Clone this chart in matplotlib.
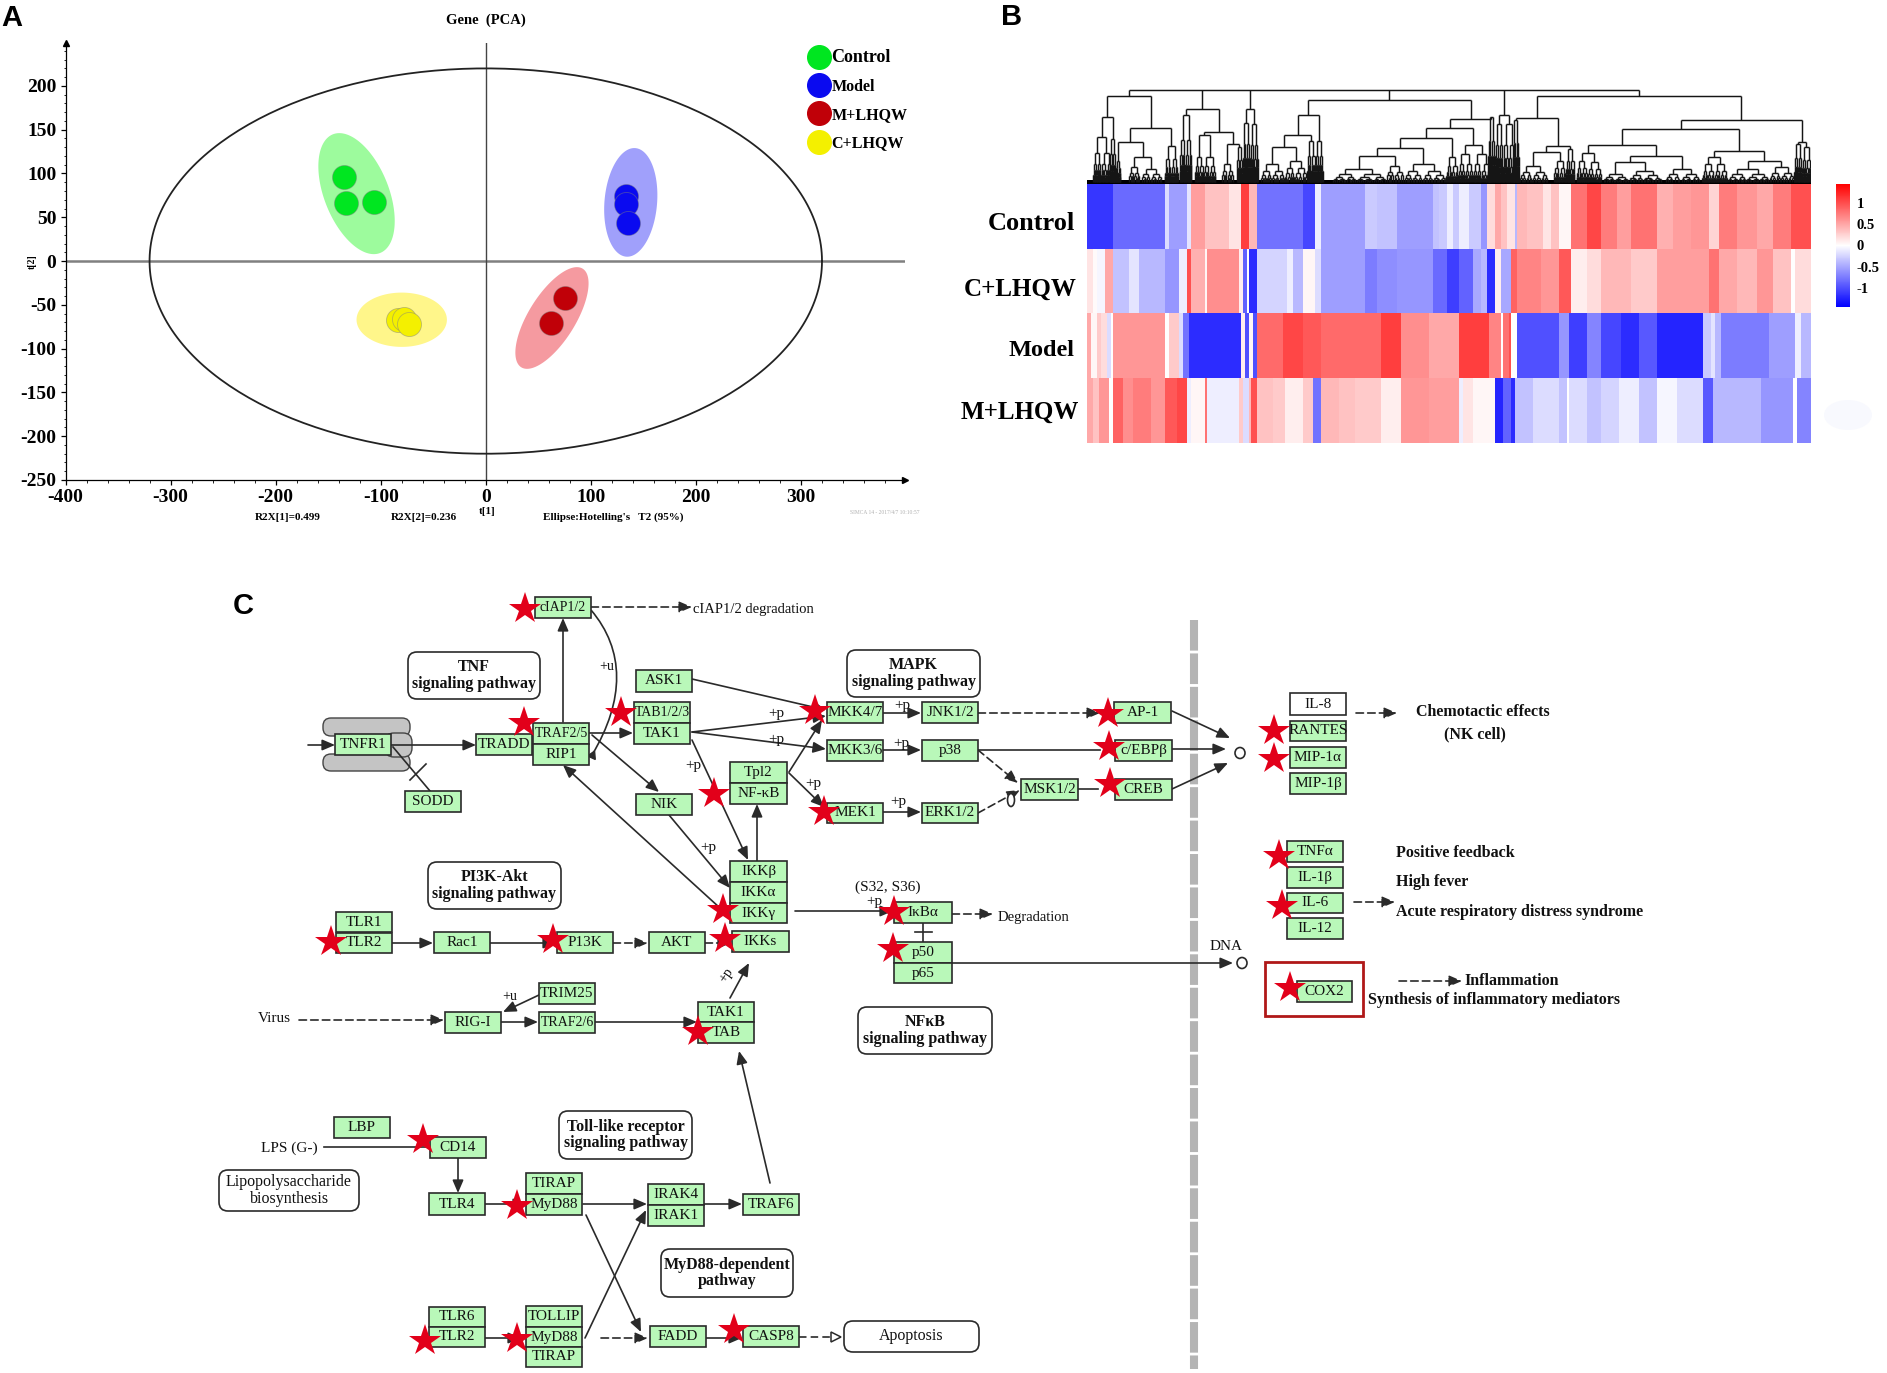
import numpy as np
import matplotlib
matplotlib.use('Agg')
import matplotlib.pyplot as plt
from matplotlib.collections import LineCollection
from matplotlib.colors import LinearSegmentedColormap, Normalize
from matplotlib.lines import Line2D
from matplotlib.patches import FancyBboxPatch, Rectangle, Ellipse, PathPatch
from matplotlib.path import Path

plt.rcParams['font.family'] = ['Liberation Serif', 'DejaVu Sans']
plt.rcParams['axes.unicode_minus'] = False

W, H = 1887, 1373
SANS = ['Liberation Sans', 'DejaVu Sans']

# ---------- Panel A data ----------
group_names = ['Control', 'Model', 'M+LHQW', 'C+LHQW']
point_colors = ['#00e620', '#0a0af0', '#c00008', '#f4f000']
fill_colors = ['#9dfb9d', '#a0a0fb', '#f59aa0', '#fff68a']
pca_t1 = [[-135, -133, -106], [133, 133, 135], [75, 62], [-84, -78, -73]]
pca_t2 = [[96, 66, 68], [74, 65, 43], [-42, -71], [-67, -66, -72]]
ell_center = [(-123, 77), (138, 67), (63, -65), (-80, -67)]
ell_major = [(-20.5, 68.5), (4, 62), (27, 57.5), (43, 0)]
ell_minor = [(30, 9), (25, -1.6), (22, -8), (0, 31)]
hotelling_rx, hotelling_ry = 320, 220

# ---------- Panel B data ----------
row_names = ['Control', 'C+LHQW', 'Model', 'M+LHQW']
ctrl_ends = [13, 39, 41, 50, 52, 59, 71, 77, 81, 85, 108, 114, 117, 139, 145, 155, 173, 176, 180, 183,
             186, 191, 197, 200, 204, 207, 210, 214, 215, 220, 228, 232, 236, 242, 250, 257, 265, 272, 285, 293,
             302, 311, 316, 325, 335, 343, 352, 362]
ctrl_vals = [-1.15, -.85, -.2, -.55, -.15, .55, .35, .15, 1.1, .4, -.8, -1.05, -.1, -.55, -.3, -.35, -.55, -.35, -.3, -.1,
             -.3, -.1, -.3, -.6, .2, .5, .35, .15, -.4, .4, .35, .15, .35, .05, .8, 1.05, .75, .55, .8, .45,
             .55, .6, .25, .75, .6, .5, .75, 1.0]
cl_ends = [3, 5, 9, 13, 21, 26, 39, 46, 50, 52, 59, 60, 76, 78, 80, 81, 85, 100, 103, 108,
           114, 117, 139, 145, 155, 173, 180, 186, 193, 197, 200, 204, 207, 212, 215, 227, 236, 242, 250, 257,
           272, 285, 311, 316, 325, 335, 343, 352, 354, 362]
cl_vals = [.15, .03, -.05, .5, -.35, -.15, -.4, -.6, -.1, 1.0, .45, .05, .65, .1, -.9, 0, -1.2, -.25, -.1, -.4,
           .05, -.2, -.55, -.75, -.65, -.6, -.85, -1.1, -.9, -.5, -.4, -1.2, .1, -.5, .9, .7, .6, .95, .1, .2,
           .4, .3, .55, .8, .5, .4, .6, .35, 0, .2]
model_ends = [2, 5, 7, 10, 12, 13, 39, 41, 46, 48, 51, 77, 79, 81, 83, 85, 98, 108, 117, 147,
              157, 171, 186, 201, 207, 208, 211, 212, 215, 236, 241, 250, 257, 267, 276, 285, 308, 312, 314, 317,
              341, 354, 357, 362]
model_vals = [.5, .05, .3, .2, -.2, 0, .6, 0, .3, -.2, -.8, -1.2, .1, -1, .05, -1, .85, 1.05, .95, .85,
              1.1, .65, .5, 1.1, .7, 0, .8, 1, 0, -1.0, -.6, -1.1, -.7, -1.05, -1.2, -.95, -1.25, -.3, -.15, -.4,
              -.75, -.55, -.1, -.4]
ml_ends = [3, 6, 11, 13, 18, 23, 32, 39, 45, 50, 52, 59, 60, 76, 78, 81, 82, 85, 93, 99,
           108, 113, 117, 126, 134, 147, 157, 171, 186, 188, 193, 204, 208, 212, 214, 223, 236, 240, 241, 250,
           257, 266, 276, 285, 295, 308, 313, 337, 353, 355, 362]
ml_vals = [.5, .35, .6, 0, .9, .65, .75, .6, .95, 1.05, -.1, .05, .8, -.1, .3, -.2, .4, 1, .35, .3,
           .1, .3, -.8, .4, .35, .3, .1, .6, .55, -.1, .15, .05, -1.25, -.9, -1.2, -.35, -.2, -.35, 0, -.2,
           -.35, -.25, -.1, -.35, -.05, -.2, -.95, -.4, -.6, 0, -.7]
scale_ticks = [1, 0.5, 0, -0.5, -1]
scale_labels = ['1', '0.5', '0', '-0.5', '-1']
scale_limit = 1.46


def comb(x0, x1, h, minw):
    return (x0, x1, h, minw * 0.5)


# dendrogram: [merge height, children...]; comb(...) marks a dense tuft of leaves
dendro = [268,
          [287,
           [350, comb(240, 270, 410, 3), comb(268, 278, 415, 2)],
           [382,
            [425, comb(278, 286, 480, 2),
             [470, comb(300, 318, 500, 6), comb(320, 355, 505, 8)]],
            comb(360, 382, 435, 2)]],
          [325, comb(385, 405, 345, 2.5),
           [395,
            [405, comb(410, 425, 470, 4), comb(425, 445, 470, 4)],
            [430, comb(455, 475, 490, 6), comb(480, 490, 440, 2.5)]]],
          [325, comb(490, 503, 368, 2), comb(503, 516, 372, 2)],
          [300,
           [345,
            [405,
             [440, comb(520, 560, 490, 6), comb(560, 598, 480, 6)],
             comb(598, 612, 420, 2.5)],
            comb(612, 624, 420, 2.5)],
           [355,
            [382,
             [412,
              [442,
               [465, comb(640, 730, 505, 10), comb(730, 760, 495, 8)],
               [490, comb(760, 790, 510, 8), comb(790, 830, 510, 8)]],
              comb(830, 850, 470, 4)],
             [432, comb(850, 875, 460, 4), comb(875, 905, 460, 4)]],
            comb(900, 912, 350, 2.5)]],
          [345, comb(912, 925, 370, 2), comb(925, 945, 370, 2.5)],
          [288,
           [352, comb(942, 952, 360, 2),
            [435,
             [455, comb(952, 1000, 495, 6), comb(1010, 1030, 480, 4)],
             comb(1030, 1045, 445, 2.5)]],
           [358,
            [385,
             [432,
              [458, comb(1048, 1066, 480, 3), comb(1066, 1090, 485, 4)],
              [465,
               [485, comb(1092, 1135, 520, 8), comb(1135, 1190, 510, 8)],
               comb(1195, 1255, 505, 10)]],
             [450,
              [470, comb(1258, 1278, 490, 3), comb(1278, 1300, 490, 3)],
              [480, comb(1300, 1370, 505, 8), comb(1370, 1412, 500, 8)]]],
            [425, comb(1412, 1424, 430, 2.5), comb(1424, 1440, 440, 2.5)]]]]

# ---------- Panel C data ----------
genes = [('cIAP1/2', 535, 591, 597, 618), ('TRADD', 476, 532, 734, 755), ('TRAF2/5', 533, 589, 723, 744),
         ('RIP1', 533, 589, 744, 765), ('TNFR1', 335, 391, 734, 755), ('SODD', 405, 461, 791, 812),
         ('ASK1', 636, 692, 670, 692), ('TAB1/2/3', 634, 690, 702, 723), ('TAK1', 634, 690, 723, 744),
         ('NIK', 636, 692, 794, 815), ('Tpl2', 730, 787, 762, 783), ('NF-κB', 730, 787, 783, 804),
         ('MKK4/7', 827, 883, 702, 723), ('JNK1/2', 922, 978, 702, 723), ('MKK3/6', 827, 883, 740, 761),
         ('p38', 922, 978, 740, 761), ('MEK1', 827, 883, 803, 823), ('ERK1/2', 922, 978, 803, 823),
         ('IKKβ', 730, 787, 861, 882), ('IKKα', 730, 787, 882, 903), ('IKKγ', 730, 787, 903, 923),
         ('IKKs', 732, 789, 931, 952), ('TLR1', 336, 392, 912, 932), ('TLR2', 336, 392, 933, 953),
         ('Rac1', 434, 490, 932, 953), ('P13K', 557, 613, 932, 953), ('AKT', 649, 705, 932, 953),
         ('IκBα', 894, 952, 902, 923), ('p50', 894, 952, 942, 963), ('p65', 894, 952, 963, 983),
         ('TRIM25', 539, 595, 983, 1004), ('RIG-I', 445, 501, 1012, 1033), ('TRAF2/6', 539, 595, 1012, 1033),
         ('TAK1', 698, 754, 1002, 1022), ('TAB', 698, 754, 1022, 1043), ('LBP', 334, 390, 1117, 1138),
         ('CD14', 430, 486, 1137, 1158), ('TLR4', 429, 485, 1193, 1215), ('TIRAP', 526, 582, 1173, 1194),
         ('MyD88', 526, 582, 1194, 1215), ('IRAK4', 648, 704, 1184, 1205), ('IRAK1', 648, 704, 1205, 1226),
         ('TRAF6', 743, 799, 1194, 1215), ('TLR6', 429, 485, 1307, 1327), ('TLR2', 429, 485, 1327, 1347),
         ('TOLLIP', 526, 582, 1306, 1327), ('MyD88', 526, 582, 1327, 1347), ('TIRAP', 526, 582, 1347, 1367),
         ('FADD', 650, 706, 1326, 1347), ('CASP8', 743, 799, 1326, 1347), ('AP-1', 1114, 1171, 702, 723),
         ('c/EBPβ', 1115, 1172, 740, 761), ('CREB', 1115, 1172, 779, 800), ('MSK1/2', 1021, 1078, 779, 800),
         ('RANTES', 1290, 1346, 721, 741), ('MIP-1α', 1290, 1346, 747, 768), ('MIP-1β', 1290, 1346, 773, 794),
         ('TNFα', 1287, 1343, 841, 862), ('IL-1β', 1287, 1343, 867, 888), ('IL-6', 1287, 1343, 893, 913),
         ('IL-12', 1287, 1343, 918, 939), ('COX2', 1297, 1352, 981, 1002)]
pathway_boxes = [('TNF\nsignaling pathway', 408, 540, 652, 699, 'bold'), ('MAPK\nsignaling pathway', 847, 980, 650, 697, 'bold'),
                 ('PI3K-Akt\nsignaling pathway', 428, 561, 862, 909, 'bold'), ('NFκB\nsignaling pathway', 858, 992, 1007, 1054, 'bold'),
                 ('Toll-like receptor\nsignaling pathway', 559, 692, 1111, 1159, 'bold'),
                 ('MyD88-dependent\npathway', 661, 793, 1249, 1297, 'bold'),
                 ('Lipopolysaccharide\nbiosynthesis', 219, 359, 1170, 1211, 'normal'), ('Apoptosis', 844, 979, 1321, 1352, 'normal')]
stars = [(525, 609), (524, 723), (621, 713), (815, 711), (714, 794), (824, 812), (723, 910), (725, 939), (331, 942),
         (553, 940), (894, 912), (893, 949), (698, 1032), (423, 1140), (517, 1206), (425, 1341), (517, 1339), (734, 1330),
         (1108, 714), (1109, 747), (1110, 784), (1274, 731), (1274, 759), (1279, 856), (1282, 906), (1290, 988)]
solid_arrows = [(308, 745, 335, 745), (391, 745, 476, 745), (563, 722, 563, 618), (589, 733, 633, 733), (692, 732, 826, 716),
                (692, 732, 826, 749), (692, 679, 826, 710), (592, 735, 659, 792), (692, 740, 748, 860), (669, 815, 730, 888),
                (720, 908, 563, 765), (757, 861, 757, 804), (789, 772, 822, 720), (789, 773, 824, 807), (883, 713, 921, 713),
                (883, 750, 921, 750), (883, 812, 921, 812), (1172, 749, 1226, 749), (1172, 711, 1230, 738), (1172, 789, 1228, 763),
                (795, 911, 893, 911), (952, 963, 1233, 963), (392, 943, 433, 943), (490, 943, 556, 943), (730, 998, 749, 963),
                (539, 995, 503, 1012), (501, 1022, 538, 1022), (595, 1022, 697, 1022), (458, 1158, 458, 1193), (485, 1204, 526, 1204),
                (583, 1204, 647, 1204), (704, 1204, 742, 1204), (770, 1183, 739, 1051), (586, 1215, 641, 1332), (585, 1338, 646, 1210),
                (485, 1338, 521, 1338), (706, 1338, 742, 1338)]
dashed_arrows = [(591, 607, 692, 607), (978, 713, 1100, 713), (978, 750, 1018, 783), (978, 813, 1020, 790), (952, 914, 993, 914),
                 (613, 943, 648, 943), (705, 943, 731, 943), (1356, 713, 1397, 713), (1354, 902, 1395, 902), (1399, 981, 1462, 981),
                 (299, 1020, 444, 1020), (601, 1338, 648, 1338)]
plain_lines = [(978, 750, 1100, 750), (1078, 789, 1098, 789), (923, 923, 923, 942), (915, 932, 932, 932), (393, 747, 430, 791),
               (410, 780, 426, 764), (324, 1147, 429, 1147)]
plain_notes = [('cIAP1/2 degradation', 693, 610, 'left', 10.5, 'normal'), ('Degradation', 998, 918, 'left', 10.5, 'normal'),
               ('Virus', 274, 1019, 'center', 11, 'normal'), ('LPS (G-)', 289, 1148, 'center', 11, 'normal'), ('DNA', 1226, 947, 'center', 11, 'normal'),
               ('(S32, S36)', 888, 887, 'center', 11, 'normal'), ('+u', 607, 667, 'center', 10, 'normal'), ('+u', 510, 996, 'center', 10, 'normal'),
               ('+p', 776, 714, 'center', 11, 'normal'), ('+p', 776, 739, 'center', 11, 'normal'), ('+p', 902, 706, 'center', 11, 'normal'),
               ('+p', 901, 743, 'center', 11, 'normal'), ('+p', 898, 801, 'center', 11, 'normal'), ('+p', 693, 765, 'center', 11, 'normal'),
               ('+p', 708, 848, 'center', 11, 'normal'), ('+p', 813, 783, 'center', 11, 'normal'), ('+p', 874, 902, 'center', 11, 'normal'),
               ('Chemotactic effects', 1483, 712, 'center', 11.5, 'bold'), ('(NK cell)', 1475, 734, 'center', 11.5, 'bold'),
               ('Positive feedback', 1396, 853, 'left', 11.5, 'bold'), ('High fever', 1396, 882, 'left', 11.5, 'bold'),
               ('Acute respiratory distress syndrome', 1396, 912, 'left', 11.5, 'bold'), ('Inflammation', 1464, 981, 'left', 11.5, 'bold'),
               ('Synthesis of inflammatory mediators', 1368, 1000, 'left', 11.5, 'bold')]

# ---------- Figure ----------
fig = plt.figure(figsize=(W / 100, H / 100), dpi=100, facecolor='white')


def px_axes(x0, x1, y0, y1, **kw):
    return fig.add_axes([x0 / W, 1 - y1 / H, (x1 - x0) / W, (y1 - y0) / H], **kw)


# ---------- Panel A ----------
ax = px_axes(65.5, 905, 43, 480)
ax.set_xlim(-400, 399)
ax.set_ylim(-250, 249)
for s in ('top', 'right'):
    ax.spines[s].set_visible(False)
for s in ('left', 'bottom'):
    ax.spines[s].set_linewidth(0.9)
ax.set_xticks(range(-400, 301, 100))
ax.set_yticks(range(-250, 201, 50))
ax.set_xticks(range(-400, 399, 20), minor=True)
ax.set_yticks(range(-250, 249, 10), minor=True)
ax.tick_params(which='major', length=3.5, width=0.9, pad=3)
ax.tick_params(which='minor', length=1.8, width=0.6)
for lab in ax.get_xticklabels() + ax.get_yticklabels():
    lab.set_fontsize(14)
    lab.set_fontweight('bold')
ax.axhline(0, color='#808080', lw=1.8, zorder=1)
ax.axvline(0, color='#444444', lw=1.0, zorder=1)
t = np.linspace(0, 2 * np.pi, 300)
ax.plot(hotelling_rx * np.cos(t), hotelling_ry * np.sin(t), color='#222222', lw=1.3, zorder=2)
for c, u, v, col in zip(ell_center, ell_major, ell_minor, fill_colors):
    ax.fill(c[0] + u[0] * np.cos(t) + v[0] * np.sin(t), c[1] + u[1] * np.cos(t) + v[1] * np.sin(t),
            color=col, lw=0, zorder=2)
for xs, ys, col in zip(pca_t1, pca_t2, point_colors):
    ax.scatter(xs, ys, s=300, color=col, edgecolors='#80808080', linewidths=0.6, zorder=3)
ax.plot(0, 1, '^k', ms=4, transform=ax.transAxes, clip_on=False)
ax.plot(1, 0, '>k', ms=4, transform=ax.transAxes, clip_on=False)
handles = [Line2D([], [], ls='', marker='o', ms=17, color=c) for c in point_colors]
leg = ax.legend(handles, group_names, loc='upper left', bbox_to_anchor=(0.884, 0.986), frameon=False,
                labelspacing=0.78, handletextpad=0.1, handlelength=1.4, borderpad=0, borderaxespad=0,
                prop={'size': 11.5, 'weight': 'bold'})
leg.get_texts()[0].set_fontsize(13)

# ---------- Panel B ----------
hm_rows = [np.repeat(v, np.diff([0] + e)) for e, v in ((ctrl_ends, ctrl_vals), (cl_ends, cl_vals),
                                                         (model_ends, model_vals), (ml_ends, ml_vals))]
matrix = np.array(hm_rows)
cmap = LinearSegmentedColormap.from_list('bwr2', ['#0000ff', '#ffffff', '#ff0000'])
norm = Normalize(-scale_limit, scale_limit)
hm = px_axes(1087, 1811, 184, 443)
mesh = hm.pcolormesh(matrix, cmap=cmap, norm=norm, rasterized=True)
hm.set_ylim(4, 0)
hm.axis('off')
cax = px_axes(1836, 1850, 184, 307)
cb = fig.colorbar(mesh, cax=cax)
cb.outline.set_visible(False)
cb.set_ticks(scale_ticks, labels=scale_labels)
cax.tick_params(length=0, pad=5)
for lab in cax.get_yticklabels():
    lab.set_fontsize(10.5)
    lab.set_fontweight('bold')

dn = px_axes(1087, 1811, 89, 184)
dn.set_xlim(230, 1440)
dn.set_ylim(550, 266)
dn.axis('off')
segments = []
LEAF = 545


def grow_comb(x0, x1, h, minw, depth=0):
    if x1 - x0 < minw:
        return (x0 + x1) / 2, LEAF
    ratio = 0.58 if depth % 2 else 0.44
    xm = x0 + (x1 - x0) * ratio
    nh = h + (LEAF - h) * 0.36
    xa, ha = grow_comb(x0, xm, nh, minw, depth + 1)
    xb, hb = grow_comb(xm, x1, nh, minw, depth + 1)
    segments.extend([[(xa, h), (xb, h)], [(xa, h), (xa, ha)], [(xb, h), (xb, hb)]])
    return (xa + xb) / 2, h


def grow(node):
    if isinstance(node, tuple):
        return grow_comb(*node)
    h = node[0]
    kids = [grow(k) for k in node[1:]]
    segments.append([(kids[0][0], h), (kids[-1][0], h)])
    for kx, kh in kids:
        segments.append([(kx, h), (kx, kh)])
    return (kids[0][0] + kids[-1][0]) / 2, h


grow(dendro)
dn.add_collection(LineCollection(segments, colors='#151515', linewidths=1.05))
dn.axhspan(539, 550, color='black', lw=0)

# ---------- Overlay: labels and Panel C ----------
ov = fig.add_axes([0, 0, 1, 1], zorder=5)
ov.set_xlim(0, W)
ov.set_ylim(H, 0)
ov.axis('off')
ov.patch.set_alpha(0)

ov.text(486, 20, 'Gene  (PCA)', ha='center', va='center', fontsize=10.5, fontweight='bold')
ov.text(32, 262, 't[2]', ha='center', va='center', rotation=90, fontsize=7, fontweight='bold')
ov.text(487, 511, 't[1]', ha='center', va='center', fontsize=8, fontweight='bold')
ov.text(288, 517, 'R2X[1]=0.499', ha='center', va='center', fontsize=8, fontweight='bold')
ov.text(424, 517, 'R2X[2]=0.236', ha='center', va='center', fontsize=8, fontweight='bold')
ov.text(613, 517, "Ellipse:Hotelling's   T2 (95%)", ha='center', va='center', fontsize=8, fontweight='bold')
ov.text(885, 513, 'SIMCA 14 - 2017/4/7 10:10:57', ha='center', va='center', fontsize=4, color='#b0b0b0')
ov.text(1, 18, 'A', family=SANS, fontsize=21, fontweight='bold', va='center')
ov.text(1001, 17, 'B', family=SANS, fontsize=21, fontweight='bold', va='center')
ov.text(233, 606, 'C', family=SANS, fontsize=21, fontweight='bold', va='center')
for name, y, fs, xr in zip(row_names, [223, 289, 350, 412], [19, 18, 17.5, 18], [1075, 1077, 1075, 1079]):
    ov.text(xr, y, name, ha='right', va='center', fontsize=fs, fontweight='bold')
ov.add_patch(Ellipse((1848, 415), 48, 30, color='#f8f9fe', lw=0))

INK = '#2a2a2a'
LW = 1.2
for y0, y1 in ((718, 736), (754, 771)):
    ov.add_patch(FancyBboxPatch((323, y0), 87, y1 - y0, boxstyle='round,pad=0,rounding_size=8',
                                fc='#c4c4c4', ec='#444444', lw=1.0, zorder=2))
ov.add_patch(FancyBboxPatch((385, 733), 27, 24, boxstyle='round,pad=0,rounding_size=9',
                            fc='#c4c4c4', ec='#444444', lw=1.0, zorder=2))
for x0, y0, x1, y1 in plain_lines:
    ov.plot([x0, x1], [y0, y1], color=INK, lw=LW, zorder=3)


def arrow(x0, y0, x1, y1, dashed=False):
    ov.annotate('', xy=(x1, y1), xytext=(x0, y0), zorder=3,
                arrowprops=dict(arrowstyle='-|>,head_length=0.7,head_width=0.3', shrinkA=0, shrinkB=0,
                                lw=LW, color=INK, fc=INK, mutation_scale=11,
                                linestyle=(0, (4.5, 2.5)) if dashed else '-'))


for a in solid_arrows:
    arrow(*a)
for a in dashed_arrows:
    arrow(*a, dashed=True)
ov.plot([799, 834], [1337, 1337], color=INK, lw=LW, linestyle=(0, (4.5, 2.5)), zorder=3)
ov.plot([836], [1337], marker='>', ms=7, mfc='white', mec=INK, mew=1.1, zorder=4)
curve = Path([(591, 610), (625, 650), (625, 700), (592, 755)],
             [Path.MOVETO, Path.CURVE4, Path.CURVE4, Path.CURVE4])
ov.add_patch(PathPatch(curve, fc='none', ec=INK, lw=LW, zorder=3))
ov.plot([592], [755], marker=(3, 0, 215), ms=7, color=INK, zorder=3)
for cx, cy, rw, rh in ((1240, 753, 10, 11), (1242, 963, 10, 11), (1011, 800, 7, 13)):
    ov.add_patch(Ellipse((cx, cy), rw, rh, fc='white', ec=INK, lw=1.2, zorder=4))
ov.plot([1194, 1194], [620, 1369], color='#b4b4b4', lw=5.8, linestyle=(0, (3.8, 0.35)), zorder=1, solid_capstyle='butt')
ov.add_patch(Rectangle((1265, 962), 98, 54, fc='none', ec='#b01818', lw=2.0, zorder=3))
ov.add_patch(Rectangle((1290, 693), 56, 22, fc='white', ec=INK, lw=LW, zorder=4))
ov.text(1318, 704, 'IL-8', ha='center', va='center', fontsize=11, color='#111111', zorder=5)

for name, x0, x1, y0, y1 in genes:
    ov.add_patch(Rectangle((x0, y0), x1 - x0, y1 - y0, fc='#b9f8b9', ec=INK, lw=LW, zorder=4))
    fs = 10 if len(name) >= 7 else 11
    ov.text((x0 + x1) / 2, (y0 + y1) / 2, name, ha='center', va='center', fontsize=fs, color='#111111', zorder=5)
for label, x0, x1, y0, y1, wt in pathway_boxes:
    ov.add_patch(FancyBboxPatch((x0, y0), x1 - x0, y1 - y0, boxstyle='round,pad=0,rounding_size=9',
                                fc='white', ec=INK, lw=LW, zorder=4))
    ov.text((x0 + x1) / 2, (y0 + y1) / 2, label, ha='center', va='center', fontsize=11.5, fontweight=wt,
            linespacing=1.05, color='#111111', zorder=5)
for label, x, y, ha, fs, wt in plain_notes:
    ov.text(x, y, label, ha=ha, va='center', fontsize=fs, fontweight=wt, color='#111111', zorder=5)
ov.text(726, 975, '+p', ha='center', va='center', fontsize=10, rotation=55, color='#111111', zorder=5)
sx, sy = zip(*stars)
ov.plot(sx, sy, ls='', marker='*', ms=24, color='#e2001a', mew=0, zorder=6)

fig.savefig('out.png', dpi=100)
